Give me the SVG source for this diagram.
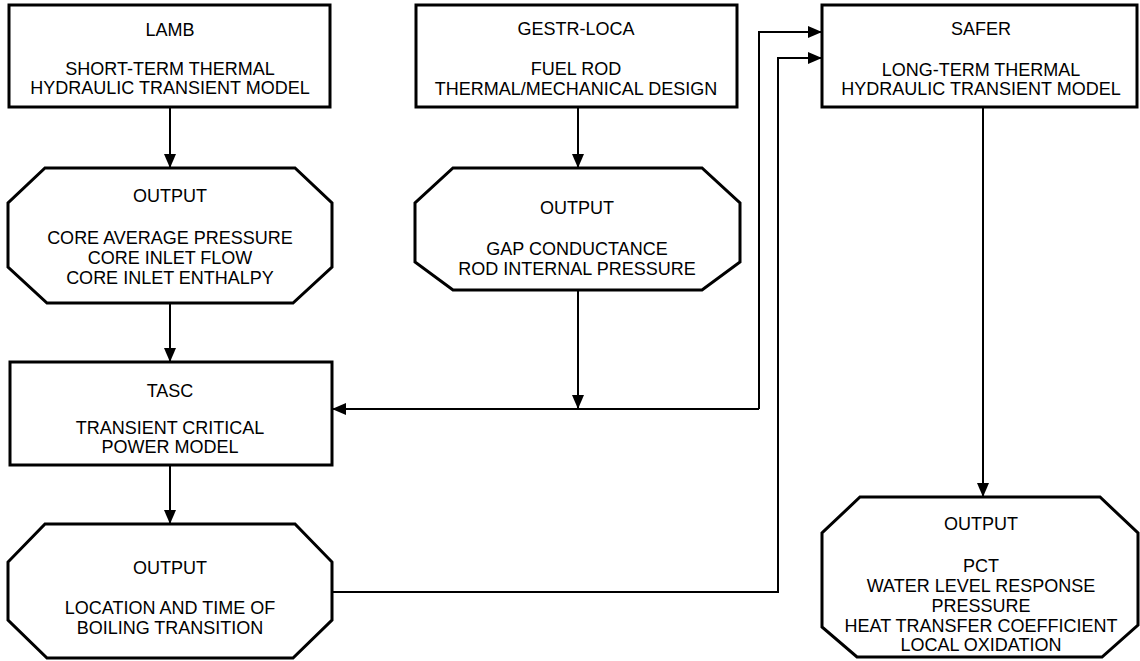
<svg xmlns="http://www.w3.org/2000/svg" width="1140" height="661" viewBox="0 0 1140 661">
<style>
.box{fill:#fff;stroke:#000;stroke-width:3}
.t{font-family:"Liberation Sans",Arial,sans-serif;font-size:18px;fill:#000;text-anchor:middle}
.c{fill:none;stroke:#000;stroke-width:2}
</style>
<defs>
<marker id="ah" viewBox="0 0 14 12" refX="14" refY="6" markerWidth="14" markerHeight="12" markerUnits="userSpaceOnUse" orient="auto">
<path d="M0,0 L14,6 L0,12 Z" fill="#000"/>
</marker>
</defs>
<rect width="1140" height="661" fill="#fff"/>
<g id="connectors">
<path class="c" d="M170,107 V168" marker-end="url(#ah)" stroke-width="2.5"/>
<path class="c" d="M170,303 V362" marker-end="url(#ah)"/>
<path class="c" d="M170,465 V524" marker-end="url(#ah)"/>
<path class="c" d="M578,107 V168" marker-end="url(#ah)"/>
<path class="c" d="M578,290 V409" marker-end="url(#ah)"/>
<path class="c" d="M759,409 H332" marker-end="url(#ah)"/>
<path class="c" d="M759,409 V32 H822" marker-end="url(#ah)"/>
<path class="c" d="M332,592 H778 V58 H822" marker-end="url(#ah)"/>
<path class="c" d="M983,107 V497" marker-end="url(#ah)"/>
</g>
<g id="lamb">
<rect class="box" x="9" y="5" width="321" height="102"/>
<text class="t" x="170" y="35.5">LAMB</text>
<text class="t" x="170" y="74.5">SHORT-TERM THERMAL</text>
<text class="t" x="170" y="93.5">HYDRAULIC TRANSIENT MODEL</text>
</g>
<g id="lamb-output">
<polygon class="box" points="45,168 295,168 332,203 332,267 293,303 47,303 8,267 8,203"/>
<text class="t" x="170" y="201.5">OUTPUT</text>
<text class="t" x="170" y="243.5">CORE AVERAGE PRESSURE</text>
<text class="t" x="170" y="263.5">CORE INLET FLOW</text>
<text class="t" x="170" y="283.5">CORE INLET ENTHALPY</text>
</g>
<g id="tasc">
<rect class="box" x="10" y="362" width="322" height="103"/>
<text class="t" x="170" y="396.5">TASC</text>
<text class="t" x="170" y="433.5">TRANSIENT CRITICAL</text>
<text class="t" x="170" y="452.5">POWER MODEL</text>
</g>
<g id="tasc-output">
<polygon class="box" points="45,524 295,524 332,562 332,620 293,658 47,658 8,620 8,562"/>
<text class="t" x="170" y="573.5">OUTPUT</text>
<text class="t" x="170" y="613.5">LOCATION AND TIME OF</text>
<text class="t" x="170" y="633.5">BOILING TRANSITION</text>
</g>
<g id="gestr">
<rect class="box" x="416" y="5" width="321" height="102"/>
<text class="t" x="576" y="34.5">GESTR-LOCA</text>
<text class="t" x="576" y="74.5">FUEL ROD</text>
<text class="t" x="576" y="94.5">THERMAL/MECHANICAL DESIGN</text>
</g>
<g id="gestr-output">
<polygon class="box" points="453,168 702,168 740,203 740,262 702,290 453,290 415,262 415,203"/>
<text class="t" x="577" y="213.5">OUTPUT</text>
<text class="t" x="577" y="254.5">GAP CONDUCTANCE</text>
<text class="t" x="577" y="274.5">ROD INTERNAL PRESSURE</text>
</g>
<g id="safer">
<rect class="box" x="822" y="5" width="315" height="102"/>
<text class="t" x="981" y="34.5">SAFER</text>
<text class="t" x="981" y="76">LONG-TERM THERMAL</text>
<text class="t" x="981" y="94.5">HYDRAULIC TRANSIENT MODEL</text>
</g>
<g id="safer-output">
<polygon class="box" points="860,497 1100,497 1138,533 1138,625 1102,657 857,657 822,627 822,533"/>
<text class="t" x="981" y="529.5">OUTPUT</text>
<text class="t" x="981" y="571.5">PCT</text>
<text class="t" x="981" y="591.5">WATER LEVEL RESPONSE</text>
<text class="t" x="981" y="611.5">PRESSURE</text>
<text class="t" x="981" y="631.5">HEAT TRANSFER COEFFICIENT</text>
<text class="t" x="981" y="651">LOCAL OXIDATION</text>
</g>
</svg>
